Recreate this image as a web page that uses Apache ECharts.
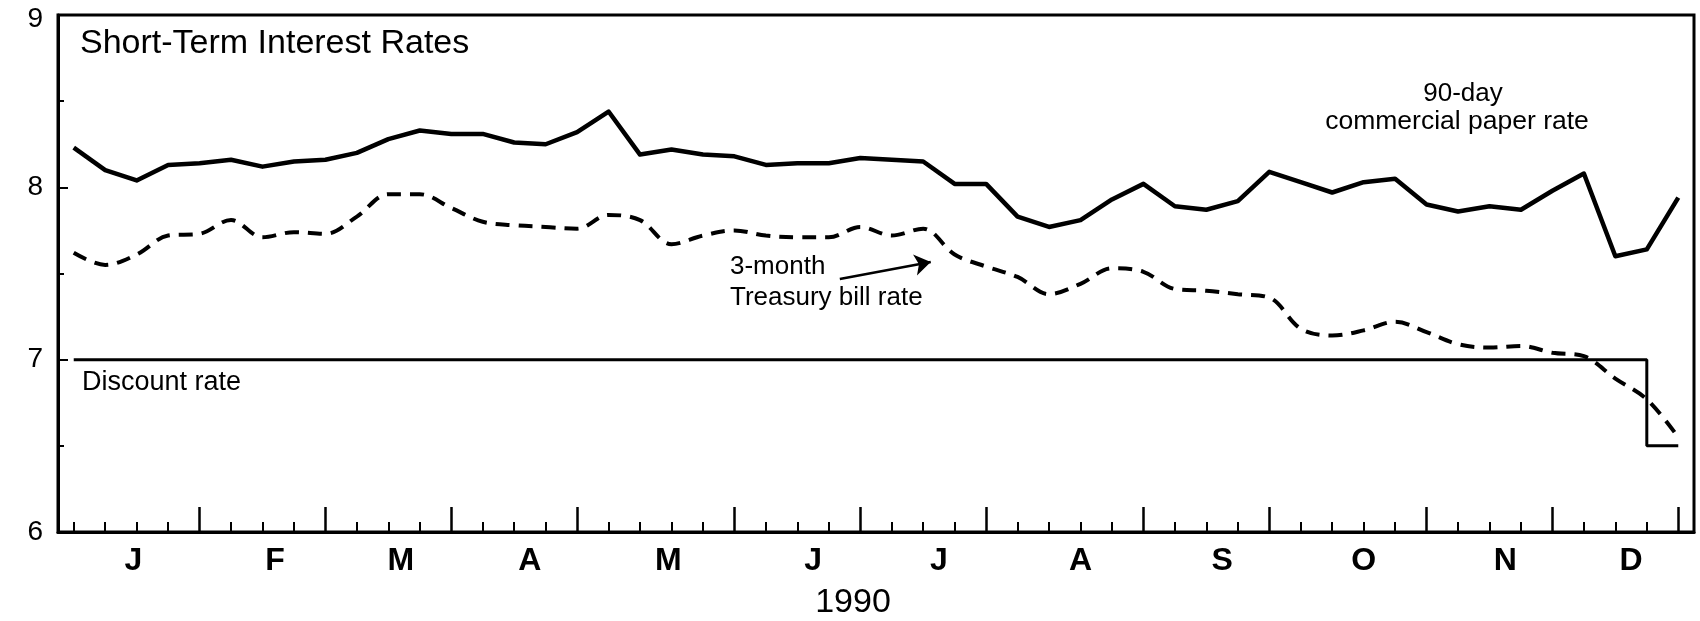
<!DOCTYPE html>
<html>
<head>
<meta charset="utf-8">
<script src="https://cdn.jsdelivr.net/npm/echarts@6/dist/echarts.min.js"></script>
<style>
html,body{margin:0;padding:0;background:#fff;}
#chart{width:1700px;height:621px;}
</style>
</head>
<body>
<div id="chart"></div>
<script>
// Week index of each observation (1990, weekly)
const weeks = [0,1,2,3,4,5,6,7,8,9,10,11,12,13,14,15,16,17,18,19,20,21,22,23,24,25,
  26,27,28,29,30,31,32,33,34,35,36,37,38,39,40,41,42,43,44,45,46,47,48,49,50,51];

// 90-day commercial paper rate (%)
const commercialPaper = [8.23,8.10,8.04,8.13,8.14,8.16,8.12,8.15,8.16,8.20,8.28,8.33,8.31,8.31,8.26,8.25,
  8.32,8.44,8.19,8.22,8.19,8.18,8.13,8.14,8.14,8.17,8.16,8.15,8.02,8.02,7.83,7.77,7.81,7.93,
  8.02,7.89,7.87,7.92,8.09,8.03,7.97,8.03,8.05,7.90,7.86,7.89,7.87,7.98,8.08,7.60,7.64,7.94];

// 3-month Treasury bill rate (%)
const treasuryBill = [7.62,7.55,7.61,7.72,7.73,7.81,7.71,7.74,7.73,7.83,7.96,7.96,7.88,7.80,7.78,7.77,
  7.76,7.84,7.81,7.67,7.72,7.75,7.72,7.71,7.71,7.77,7.72,7.76,7.61,7.54,7.48,7.38,7.44,7.53,
  7.51,7.41,7.40,7.38,7.36,7.18,7.14,7.17,7.22,7.16,7.09,7.07,7.08,7.04,7.02,6.89,6.77,6.55];

// Discount rate (%)
const discountRate = [7,7,7,7,7,7,7,7,7,7,7,7,7,7,7,7,7,7,7,7,7,7,7,7,7,7,
  7,7,7,7,7,7,7,7,7,7,7,7,7,7,7,7,7,7,7,7,7,7,7,7,7,6.5];

// Axis ticks and labels
const monthTickWeeks = [4,8,12,16,21,25,29,34,38,43,47,51];
const monthLabels = ['J','F','M','A','M','J','J','A','S','O','N','D'];
const monthLabelWeeks = [1.9,6.4,10.4,14.5,18.9,23.5,27.5,32.0,36.5,41.0,45.5,49.5];

// Arrow annotation (data coordinates: week, %)
const arrowFrom = [24.35, 7.468];
const arrowTo = [27.24, 7.567];

const weekTicks = weeks.filter(w => monthTickWeeks.indexOf(w) < 0);
const pairs = arr => weeks.map((w, i) => [w, arr[i]]);

const FONT = '"Liberation Sans", Arial, Helvetica, sans-serif';
const chart = echarts.init(document.getElementById('chart'), null, {renderer: 'canvas'});

function txt(text, x, y, size, align, weight) {
  return {
    type: 'text', x: x, y: y, silent: true, z: 10,
    style: {
      text: text, fill: '#000',
      font: (weight || 'normal') + ' ' + size + 'px ' + FONT,
      align: align, textAlign: align,
      verticalAlign: 'middle', textVerticalAlign: 'middle'
    }
  };
}

chart.setOption({
  animation: false,
  backgroundColor: '#fff',
  grid: {left: 58, right: 6, top: 15, bottom: 89, show: true, borderColor: '#000', borderWidth: 3, backgroundColor: 'transparent'},
  xAxis: [{
    type: 'value', min: -0.5, max: 51.5, position: 'bottom',
    axisLine: {show: true, onZero: false, lineStyle: {color: '#000', width: 3}},
    axisTick: {show: true, inside: true, length: 10, customValues: weekTicks, lineStyle: {color: '#000', width: 2}},
    axisLabel: {
      show: true, customValues: monthLabelWeeks, margin: 13,
      color: '#000', fontSize: 32, fontWeight: 'bold', fontFamily: FONT,
      formatter: v => { const i = monthLabelWeeks.indexOf(v); return i >= 0 ? monthLabels[i] : ''; }
    },
    splitLine: {show: false}
  }, {
    type: 'value', min: -0.5, max: 51.5, position: 'bottom', offset: 0,
    axisLine: {show: false, onZero: false},
    axisTick: {show: true, inside: true, length: 25, customValues: monthTickWeeks, lineStyle: {color: '#000', width: 2.5}},
    axisLabel: {show: false},
    splitLine: {show: false}
  }],
  yAxis: {
    type: 'value', min: 6, max: 9, interval: 1,
    axisLine: {show: true, onZero: false, lineStyle: {color: '#000', width: 3}},
    axisTick: {show: true, inside: true, length: 10, lineStyle: {color: '#000', width: 2}},
    minorTick: {show: true, splitNumber: 2, length: 6, lineStyle: {color: '#000', width: 2}},
    axisLabel: {
      color: '#000', fontSize: 28, fontFamily: FONT, margin: 15,
      formatter: v => (v === 9 ? '{top|9}' : String(v)),
      rich: {top: {fontSize: 28, fontFamily: FONT, color: '#000', padding: [8, 0, 0, 0]}}
    },
    splitLine: {show: false}, minorSplitLine: {show: false}
  },
  series: [{
    name: '90-day commercial paper rate', type: 'line', data: pairs(commercialPaper),
    symbol: 'none', z: 4,
    lineStyle: {color: '#000', width: 4.5, join: 'round'}
  }, {
    name: '3-month Treasury bill rate', type: 'line', data: pairs(treasuryBill),
    symbol: 'none', smooth: 0.35, z: 3,
    lineStyle: {color: '#000', width: 4, type: [14, 9]},
    markLine: {
      silent: true, symbol: ['none', 'arrow'], symbolSize: 16,
      label: {show: false},
      emphasis: {disabled: true},
      itemStyle: {color: '#000'},
      lineStyle: {color: '#000', width: 2.5, type: 'solid'},
      data: [[{coord: arrowFrom}, {coord: arrowTo}]]
    }
  }, {
    name: 'Discount rate', type: 'line', data: pairs(discountRate),
    symbol: 'none', step: 'start', z: 2,
    lineStyle: {color: '#000', width: 3}
  }],
  graphic: [
    txt('Short-Term Interest Rates', 80, 44, 34, 'left'),
    txt('90-day', 1463, 94, 26, 'center'),
    txt('commercial paper rate', 1457, 122, 26.5, 'center'),
    txt('3-month', 730, 267, 26, 'left'),
    txt('Treasury bill rate', 730, 298, 26, 'left'),
    txt('Discount rate', 82, 383, 27, 'left'),
    txt('1990', 853, 603, 34, 'center')
  ]
});
</script>
</body>
</html>
